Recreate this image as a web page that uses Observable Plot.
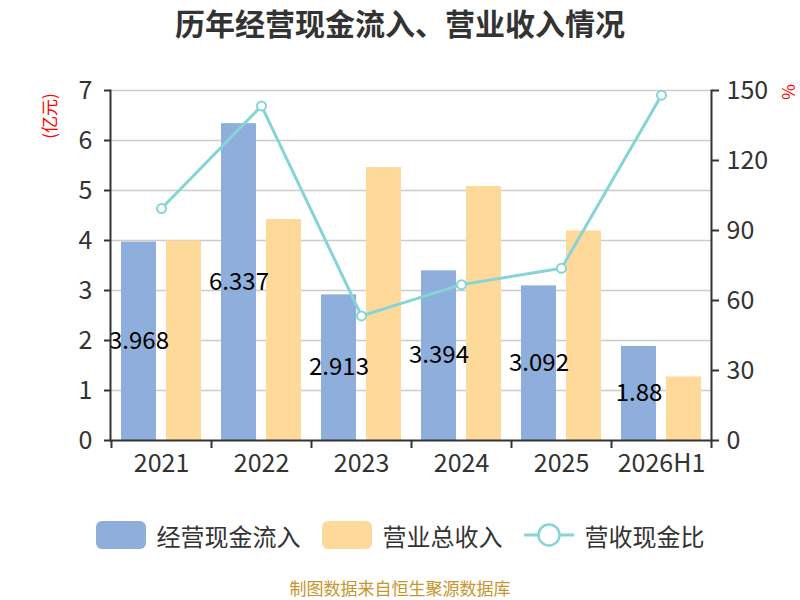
<!DOCTYPE html>
<html>
<head>
<meta charset="utf-8">
<script src="https://cdn.jsdelivr.net/npm/d3@7"></script>
<script src="https://cdn.jsdelivr.net/npm/@observablehq/plot@0.6"></script>
<style>
  html, body { margin: 0; padding: 0; background: #fff; }
  body { position: relative; width: 800px; height: 600px; overflow: hidden; font-family: "Noto Sans CJK SC", "Open Sans", sans-serif; }
  #title { height: 44px; line-height: 44px; text-align: center; font-size: 30px; font-weight: bold; color: #333; }
  #chart { height: 456px; }
  #chart svg { display: block; overflow: visible; }
  #legend { height: 70px; display: flex; justify-content: center; align-items: center; color: #333; font-size: 24px; }
  .item { display: flex; align-items: center; }
  .swatch { width: 50px; height: 28px; border-radius: 6px; margin-right: 11px; }
  .gap { width: 21px; }
  #caption { text-align: center; font-size: 17px; color: #c8952c; margin-top: 5px; }
  .unit { position: absolute; color: red; font-size: 17px; line-height: 17px; white-space: nowrap; transform: translate(-50%, -50%) rotate(-90deg); }
</style>
</head>
<body>
<div id="title">历年经营现金流入、营业收入情况</div>
<div id="chart"></div>
<div id="legend"></div>
<div id="caption">制图数据来自恒生聚源数据库</div>
<div class="unit" id="unitLeft" style="left:48px; top:116px;"></div>
<div class="unit" id="unitRight" style="left:787px; top:92px;"></div>
<script>
const categories = ["2021", "2022", "2023", "2024", "2025", "2026H1"];
const cashInflow = [3.968, 6.337, 2.913, 3.394, 3.092, 1.88];
const revenue = [3.99, 4.42, 5.46, 5.08, 4.19, 1.27];
const ratio = [99.4, 143.4, 53.4, 66.8, 73.8, 148.0];
const leftTicks = [0, 1, 2, 3, 4, 5, 6, 7];
const rightTicks = [0, 30, 60, 90, 120, 150];
const seriesNames = ["经营现金流入", "营业总收入", "营收现金比"];
const leftUnit = "(亿元)";
const rightUnit = "%";

document.getElementById("unitLeft").textContent = leftUnit;
document.getElementById("unitRight").textContent = rightUnit;

const colors = { cash: "#8eaedb", rev: "#fed999", ratio: "#84d4d8" };
const k = leftTicks[leftTicks.length - 1] / rightTicks[rightTicks.length - 1];
const rows = categories.map((c, i) => ({ cat: c, cash: cashInflow[i], rev: revenue[i], ratio: ratio[i] }));
const numFont = "'Noto Sans CJK SC', 'Open Sans', sans-serif";

const chart = Plot.plot({
  width: 800,
  height: 456,
  marginTop: 46,
  marginBottom: 60,
  marginLeft: 110,
  marginRight: 89,
  x: { type: "band", domain: categories, padding: 0 },
  y: { domain: [0, 7] },
  style: { fontFamily: numFont, background: "transparent", overflow: "visible" },
  marks: [
    Plot.gridY(leftTicks.slice(1), { stroke: "#cccccc", strokeOpacity: 1, strokeWidth: 1.5 }),
    Plot.barY(rows, { x: "cat", y: "cash", fill: colors.cash, insetLeft: 10, insetRight: 55 }),
    Plot.barY(rows, { x: "cat", y: "rev", fill: colors.rev, insetLeft: 55, insetRight: 10 }),
    Plot.line(rows, { x: "cat", y: d => d.ratio * k, stroke: colors.ratio, strokeWidth: 3 }),
    Plot.dot(rows, { x: "cat", y: d => d.ratio * k, r: 4.5, fill: "white", stroke: colors.ratio, strokeWidth: 2 }),
    Plot.text(rows, { x: "cat", y: d => d.cash / 2, text: d => String(d.cash), dx: -22.5, fontSize: 24, fill: "#000" }),
    Plot.ruleY([0], { stroke: "#333", strokeWidth: 2 }),
    Plot.frame({ anchor: "left", stroke: "#333", strokeWidth: 2 }),
    Plot.frame({ anchor: "right", stroke: "#333", strokeWidth: 2 }),
    Plot.ruleX(categories, { x: d => d, dx: -50, y1: 0, y2: -8 / 50, stroke: "#333", strokeWidth: 2 }),
    Plot.ruleX(categories.slice(-1), { x: d => d, dx: 50, y1: 0, y2: -8 / 50, stroke: "#333", strokeWidth: 2 }),
    Plot.axisY(leftTicks, { anchor: "left", tickSize: 6, tickPadding: 12, fontSize: 25, color: "#333", strokeWidth: 2, label: null, tickFormat: d => String(d) }),
    Plot.axisY(rightTicks.map(v => v * k), { anchor: "right", tickSize: 7, tickPadding: 8, fontSize: 25, color: "#333", strokeWidth: 2, label: null, tickFormat: d => String(Math.round(d / k)) }),
    Plot.axisX({ tickSize: 0, tickPadding: 14, fontSize: 25, color: "#333", label: null })
  ]
});
document.getElementById("chart").appendChild(chart);

const legend = document.getElementById("legend");
const kinds = ["bar", "bar", "line"];
const fills = [colors.cash, colors.rev, colors.ratio];
seriesNames.forEach((name, i) => {
  if (i > 0) { const g = document.createElement("div"); g.className = "gap"; legend.appendChild(g); }
  const item = document.createElement("div");
  item.className = "item";
  if (kinds[i] === "bar") {
    const sw = document.createElement("div");
    sw.className = "swatch";
    sw.style.background = fills[i];
    item.appendChild(sw);
  } else {
    const ns = "http://www.w3.org/2000/svg";
    const s = document.createElementNS(ns, "svg");
    s.setAttribute("width", 50); s.setAttribute("height", 28);
    s.style.marginRight = "11px";
    const l = document.createElementNS(ns, "line");
    l.setAttribute("x1", 0); l.setAttribute("x2", 50); l.setAttribute("y1", 14); l.setAttribute("y2", 14);
    l.setAttribute("stroke", fills[i]); l.setAttribute("stroke-width", 3);
    const c = document.createElementNS(ns, "circle");
    c.setAttribute("cx", 25); c.setAttribute("cy", 14); c.setAttribute("r", 10.5);
    c.setAttribute("fill", "white"); c.setAttribute("stroke", fills[i]); c.setAttribute("stroke-width", 2.5);
    s.appendChild(l); s.appendChild(c);
    item.appendChild(s);
  }
  const t = document.createElement("span");
  t.textContent = name;
  item.appendChild(t);
  legend.appendChild(item);
});
</script>
</body>
</html>
